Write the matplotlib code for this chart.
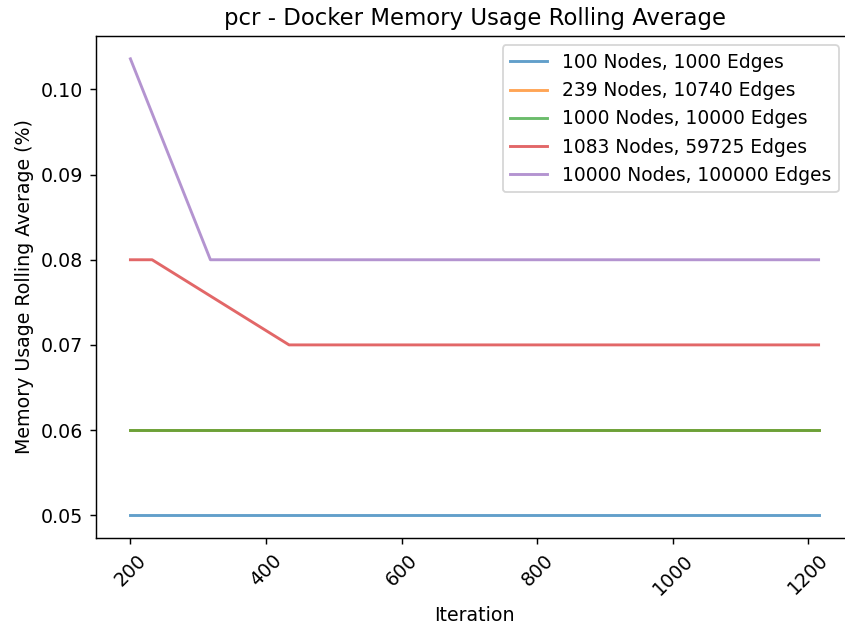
import matplotlib
matplotlib.use('Agg')
import matplotlib.pyplot as plt

# docker memory rolling average per graph size
labels = ['100 Nodes, 1000 Edges',
          '239 Nodes, 10740 Edges',
          '1000 Nodes, 10000 Edges',
          '1083 Nodes, 59725 Edges',
          '10000 Nodes, 100000 Edges']

iter_100 = [200, 1215]
mem_100 = [0.05, 0.05]

iter_239 = [200, 1215]
mem_239 = [0.06, 0.06]

iter_1000 = [200, 1215]
mem_1000 = [0.06, 0.06]

iter_1083 = [200, 232, 434, 1215]
mem_1083 = [0.08, 0.08, 0.07, 0.07]

iter_10000 = [200, 318, 1215]
mem_10000 = [0.1036, 0.08, 0.08]

series = [(iter_100, mem_100), (iter_239, mem_239), (iter_1000, mem_1000),
          (iter_1083, mem_1083), (iter_10000, mem_10000)]

plt.rcParams['font.size'] = 10.5

fig = plt.figure(figsize=(845 / 130, 629 / 130), dpi=130)
ax = fig.add_axes([96 / 845, (629 - 538) / 629, (853 - 96) / 845, (538 - 36) / 629])

for (x, y), lab in zip(series, labels):
    ax.plot(x, y, label=lab, alpha=0.7, lw=1.6)

ax.set_title('pcr - Docker Memory Usage Rolling Average', fontsize=12.6)
ax.set_xlabel('Iteration')
ax.set_ylabel('Memory Usage Rolling Average (%)')
ax.tick_params(axis='x', rotation=45)
ax.spines['right'].set_visible(False)
ax.legend(loc='upper right', fontsize=10.3,
          bbox_to_anchor=((848 - 96) / (853 - 96), 1.0))

fig.savefig('out.png', dpi=130)
